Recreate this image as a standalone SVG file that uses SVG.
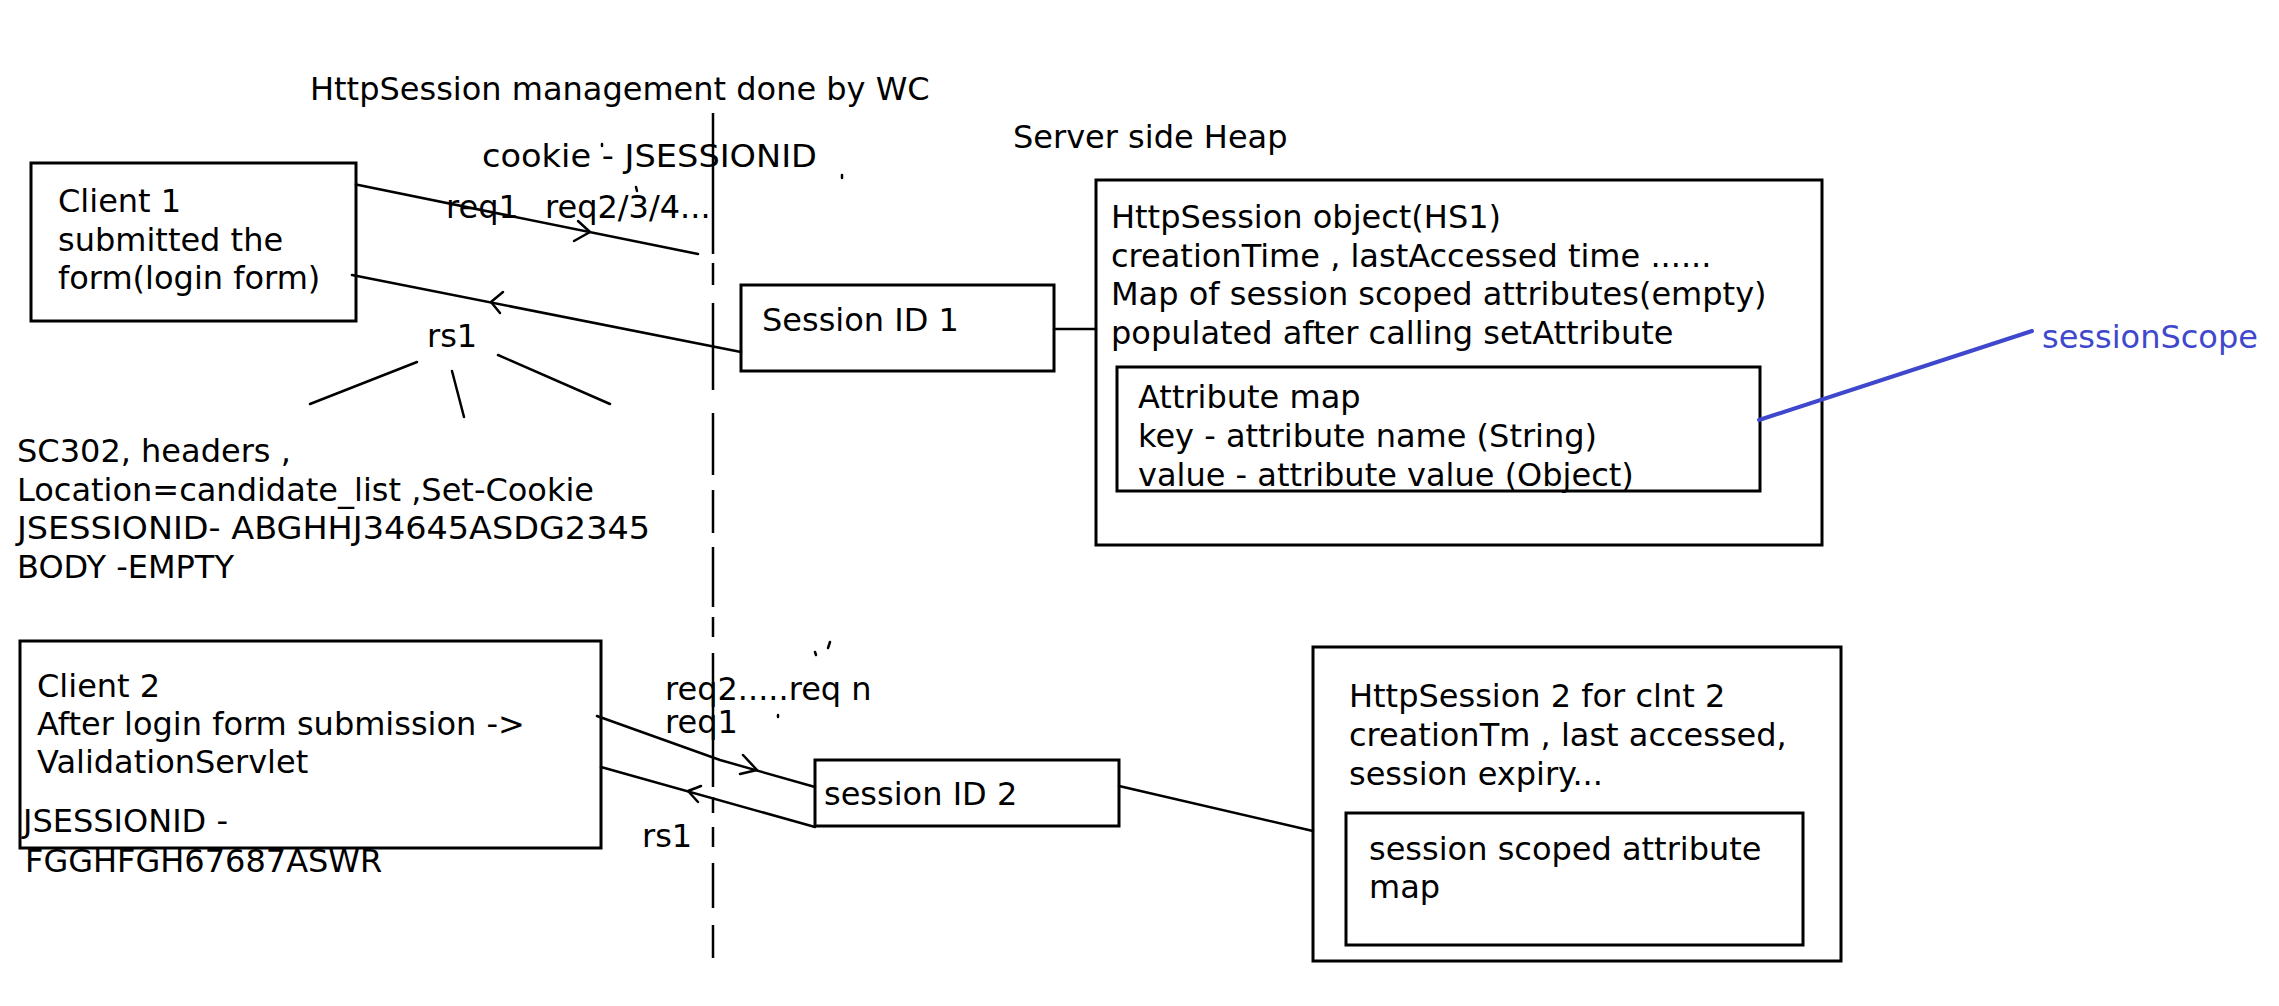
<svg xmlns="http://www.w3.org/2000/svg" width="2279" height="1006" viewBox="0 0 2279 1006">
<style>
  text { font-family: "DejaVu Sans", Verdana, sans-serif; font-size: 32px; fill: #000; }
  .box { fill: none; stroke: #000; stroke-width: 3; }
  .ln { fill: none; stroke: #000; stroke-width: 2.5; stroke-linecap: round; stroke-linejoin: round; }
  .blue { fill: #3f48cc; }
  .mark { stroke: #000; stroke-width: 2.5; stroke-linecap: round; }
</style>
<rect x="0" y="0" width="2279" height="1006" fill="#fff"/>

<g id="title"><text x="310" y="100">HttpSession management done by WC</text></g>
<g id="server-heap-label"><text x="1013" y="148">Server side Heap</text></g>

<g id="boundary">
  <line x1="713" y1="113" x2="713" y2="958" stroke="#000" stroke-width="2.5" stroke-dasharray="141 9 22 18 87 23 62 15 43 14 60 10 20 16 134 10 16 14 20 16 45 17 33 100"/>
</g>

<g id="client1">
  <rect class="box" x="31" y="163" width="325" height="158"/>
  <text x="58" y="212">Client 1</text>
  <text x="58" y="250.5">submitted the</text>
  <text x="58" y="289">form(login form)</text>
</g>

<g id="cookie-label"><text x="482" y="167" textLength="335" lengthAdjust="spacingAndGlyphs">cookie - JSESSIONID</text></g>
<g id="req-label"><text x="446" y="218">req1<tspan x="545">req2/3/4...</tspan></text></g>
<g id="rs1-label"><text x="427" y="347">rs1</text></g>

<g id="response-details">
  <text x="17" y="462">SC302, headers ,</text>
  <text x="17" y="500.5">Location=candidate_list ,Set-Cookie</text>
  <text x="17" y="539" textLength="633" lengthAdjust="spacingAndGlyphs">JSESSIONID- ABGHHJ34645ASDG2345</text>
  <text x="17" y="578">BODY -EMPTY</text>
</g>

<g id="session-id-1">
  <rect class="box" x="741" y="285" width="313" height="86"/>
  <text x="762" y="331">Session ID 1</text>
</g>

<g id="httpsession-1">
  <rect class="box" x="1096" y="180" width="726" height="365"/>
  <text x="1111" y="228">HttpSession object(HS1)</text>
  <text x="1111" y="266.5">creationTime , lastAccessed time ......</text>
  <text x="1111" y="305">Map of session scoped attributes(empty)</text>
  <text x="1111" y="343.5">populated after calling setAttribute</text>
</g>

<g id="attribute-map-1">
  <rect class="box" x="1117" y="367" width="643" height="124"/>
  <text x="1138" y="408">Attribute map</text>
  <text x="1138" y="447">key - attribute name (String)</text>
  <text x="1138" y="486">value - attribute value (Object)</text>
</g>

<g id="session-scope"><text class="blue" x="2042" y="348">sessionScope</text></g>

<g id="client2">
  <rect class="box" x="20" y="641" width="581" height="207"/>
  <text x="37" y="697">Client 2</text>
  <text x="37" y="735">After login form submission -&gt;</text>
  <text x="37" y="773">ValidationServlet</text>
  <text x="23" y="832">JSESSIONID -</text>
  <text x="25" y="872">FGGHFGH67687ASWR</text>
</g>

<g id="req2-label">
  <text x="665" y="700">req2.....req n</text>
  <text x="665" y="733">req1</text>
</g>
<g id="rs1-2-label"><text x="642" y="847">rs1</text></g>

<g id="session-id-2">
  <rect class="box" x="815" y="760" width="304" height="66"/>
  <text x="824" y="805">session ID 2</text>
</g>

<g id="httpsession-2">
  <rect class="box" x="1313" y="647" width="528" height="314"/>
  <text x="1349" y="707">HttpSession 2 for clnt 2</text>
  <text x="1349" y="746">creationTm , last accessed,</text>
  <text x="1349" y="785">session expiry...</text>
</g>

<g id="attribute-map-2">
  <rect class="box" x="1346" y="813" width="457" height="132"/>
  <text x="1369" y="860">session scoped attribute</text>
  <text x="1369" y="898">map</text>
</g>

<g id="connectors">
  <line class="ln" x1="356" y1="184.6" x2="698" y2="254"/>
  <polyline class="ln" points="578,221 590,232 574,241"/>
  <line class="ln" x1="352" y1="275" x2="741" y2="352"/>
  <polyline class="ln" points="503,292 491,302 500,313"/>
  <line class="ln" x1="417" y1="362" x2="310" y2="404"/>
  <line class="ln" x1="452" y1="371" x2="464" y2="417"/>
  <line class="ln" x1="498" y1="355" x2="610" y2="404"/>
  <line class="ln" x1="1054" y1="329" x2="1096" y2="329"/>
  <line x1="1759" y1="420" x2="2032" y2="331" stroke="#3f48cc" stroke-width="4" stroke-linecap="round"/>
  <polyline class="ln" points="597,716 720,760 815,787"/>
  <polyline class="ln" points="743,755 757,770 740,774"/>
  <line class="ln" x1="601" y1="767" x2="815" y2="827"/>
  <polyline class="ln" points="701,786 688,791 698,802"/>
  <line class="ln" x1="1119" y1="786" x2="1313" y2="831"/>
</g>

<g id="marks">
  <line class="mark" x1="602" y1="144" x2="602" y2="146"/>
  <line class="mark" x1="842" y1="175" x2="842" y2="178"/>
  <line class="mark" x1="636" y1="187" x2="637" y2="191"/>
  <line class="mark" x1="830" y1="642" x2="828" y2="648"/>
  <line class="mark" x1="815" y1="652" x2="816" y2="655"/>
  <line class="mark" x1="778" y1="715" x2="778" y2="717"/>
</g>
</svg>
